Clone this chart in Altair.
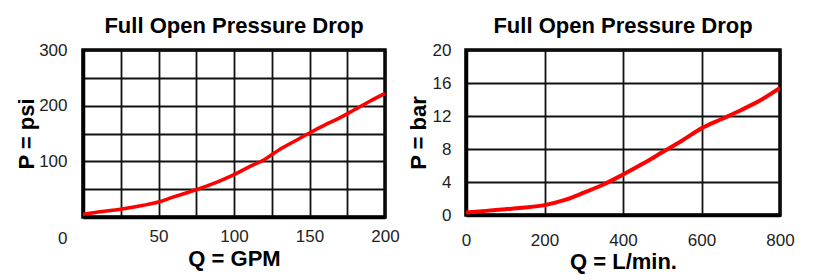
import altair as alt
import pandas as pd

# Left chart: flow in GPM vs pressure drop in psi
gpm = [0, 10, 25, 40, 50, 60, 75, 90, 100, 110, 120, 130, 140, 150, 160, 170, 180, 190, 200]
psi = [5, 9, 14, 21, 27, 36, 49, 64, 76, 90, 103, 121, 136, 151, 165, 178, 193, 208, 222]

# Right chart: flow in L/min vs pressure drop in bar
lpm = [0, 50, 100, 150, 200, 250, 300, 350, 400, 450, 500, 550, 600, 650, 700, 750, 800]
bar = [0.3, 0.5, 0.7, 0.9, 1.2, 1.8, 2.7, 3.7, 4.9, 6.2, 7.6, 9.0, 10.5, 11.6, 12.7, 13.9, 15.4]

gpm_ticks = [0, 25, 50, 75, 100, 125, 150, 175, 200]
psi_ticks = [0, 50, 100, 150, 200, 250, 300]
lpm_ticks = [0, 200, 400, 600, 800]
bar_ticks = [0, 4, 8, 12, 16, 20]

title_text = "Full Open Pressure Drop"
FONT = "Liberation Sans"

df_l = pd.DataFrame({"Q": gpm, "P": psi})
df_r = pd.DataFrame({"Q": lpm, "P": bar})

common_axis = dict(
    grid=True, gridColor="#111111", gridWidth=1.8, ticks=False, tickSize=0,
    domain=True, domainColor="#000000", domainWidth=3.5,
    labelFont=FONT, labelFontSize=17, labelColor="#222222", labelOverlap=False,
    labelFlush=False, titleFont=FONT, titleFontSize=22, titleFontWeight="bold",
    titleColor="#000000",
)

view = alt.ViewBackground(stroke="#000000", strokeWidth=3.5, fill="#ffffff")

left = alt.Chart(df_l).mark_line(color="#ff0000", strokeWidth=3.5, interpolate="monotone", clip=True).encode(
    x=alt.X("Q:Q", scale=alt.Scale(domain=[0, 200], nice=False),
            axis=alt.Axis(values=gpm_ticks, title="Q = GPM", labelPadding=11, titlePadding=4,
                          labelExpr="datum.value % 50 == 0 && datum.value > 0 ? datum.label : ''",
                          **common_axis)),
    y=alt.Y("P:Q", scale=alt.Scale(domain=[0, 300], nice=False),
            axis=alt.Axis(values=psi_ticks, title="P = psi", labelPadding=16, titlePadding=0,
                          labelExpr="datum.value % 100 == 0 ? datum.label : ''",
                          labelOffset={"condition": {"test": "datum.value === 0", "value": 21}, "value": 0},
                          **common_axis)),
).properties(
    width=302, height=167, view=view,
    title=alt.TitleParams(title_text, font=FONT, fontSize=22, fontWeight="bold", color="#000000", offset=3),
)

right = alt.Chart(df_r).mark_line(color="#ff0000", strokeWidth=4, interpolate="monotone", clip=True).encode(
    x=alt.X("Q:Q", scale=alt.Scale(domain=[0, 800], nice=False),
            axis=alt.Axis(values=lpm_ticks, title="Q = L/min.", labelPadding=17, titlePadding=3,
                          **common_axis)),
    y=alt.Y("P:Q", scale=alt.Scale(domain=[0, 20], nice=False),
            axis=alt.Axis(values=bar_ticks, title="P = bar", labelPadding=15, titlePadding=2,
                          **common_axis)),
).properties(
    width=314, height=165, view=view,
    title=alt.TitleParams(title_text, font=FONT, fontSize=22, fontWeight="bold", color="#000000", offset=3),
)

chart = alt.hconcat(left, right, spacing=4).configure(background="#ffffff")

chart.save("out.html", embed_options={"renderer": "svg", "actions": False})
